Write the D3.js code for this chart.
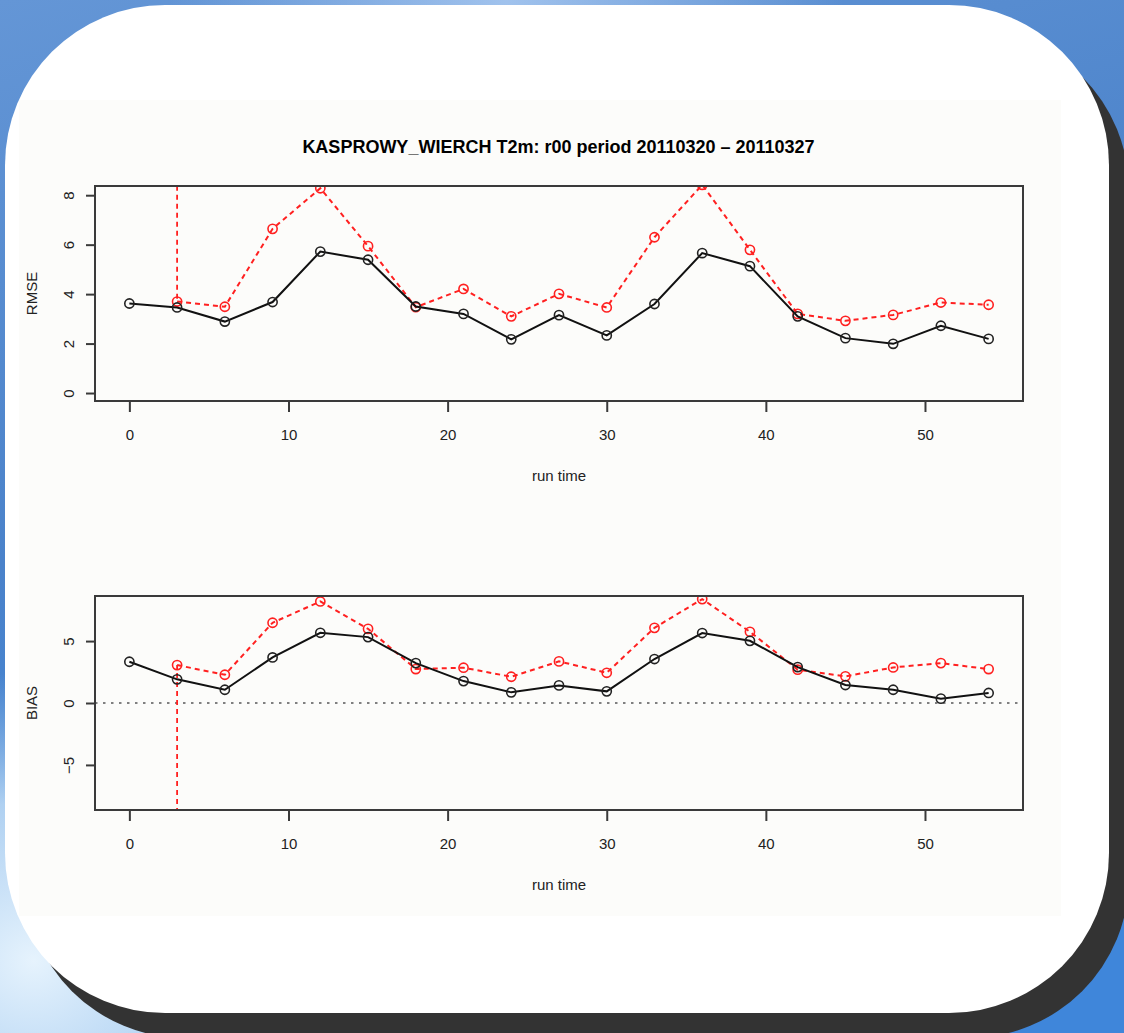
<!DOCTYPE html>
<html><head><meta charset="utf-8">
<script src="https://cdn.jsdelivr.net/npm/d3@7"></script>
<style>html,body{margin:0;padding:0;overflow:hidden;background:#4f86cc}</style>
</head><body>
<script>
// ---- data ----
const title = "KASPROWY_WIERCH T2m: r00 period 20110320 \u2013 20110327";
const xLabel = "run time";
const hours = [0,3,6,9,12,15,18,21,24,27,30,33,36,39,42,45,48,51,54];
const redHours = [3,6,9,12,15,18,21,24,27,30,33,36,39,42,45,48,51,54];
const rmseBlack = [3.62,3.46,2.89,3.68,5.72,5.39,3.50,3.20,2.17,3.15,2.33,3.60,5.66,5.13,3.10,2.22,1.99,2.72,2.19];
const rmseRed   = [3.70,3.49,6.64,8.28,5.94,3.47,4.21,3.10,4.01,3.46,6.30,8.42,5.79,3.20,2.92,3.16,3.66,3.57];
const biasBlack = [3.33,1.91,1.07,3.68,5.67,5.32,3.22,1.77,0.86,1.42,0.94,3.55,5.65,5.02,2.90,1.45,1.07,0.35,0.81];
const biasRed   = [3.06,2.28,6.48,8.20,5.99,2.74,2.85,2.12,3.36,2.44,6.07,8.39,5.75,2.69,2.15,2.87,3.22,2.74];
// off-scale spike of the red series at hour 3 (runs out of the plot region)
const redSpikeHour = 3;
const rmseRedSpike = 99;
const biasRedSpike = -99;
const xTicks = [0,10,20,30,40,50];
const rmseTicks = [0,2,4,6,8];
const biasTicks = [-5,0,5];
const biasTickLabels = ["\u22125","0","5"];

// ---- layout ----
const W = 1124, H = 1033;
const svg = d3.select("body").append("svg").attr("width", W).attr("height", H)
  .style("display","block");
const defs = svg.append("defs");

const bg = defs.append("linearGradient").attr("id","bg").attr("x1",0).attr("y1",0).attr("x2",0.3).attr("y2",1);
bg.append("stop").attr("offset","0").attr("stop-color","#6496d6");
bg.append("stop").attr("offset","0.5").attr("stop-color","#4a82ca");
bg.append("stop").attr("offset","1").attr("stop-color","#3f86da");
const bl = defs.append("radialGradient").attr("id","bl").attr("cx",0.03).attr("cy",0.93).attr("r",0.28);
bl.append("stop").attr("offset","0").attr("stop-color","#e6f3fd").attr("stop-opacity",1);
bl.append("stop").attr("offset","0.55").attr("stop-color","#c2def7").attr("stop-opacity",0.85);
bl.append("stop").attr("offset","1").attr("stop-color","#9cc6ef").attr("stop-opacity",0);
const tp = defs.append("radialGradient").attr("id","tp").attr("cx",0.45).attr("cy",0).attr("r",0.3);
tp.append("stop").attr("offset","0").attr("stop-color","#a8c8f0").attr("stop-opacity",0.9);
tp.append("stop").attr("offset","1").attr("stop-color","#a8c8f0").attr("stop-opacity",0);

svg.append("rect").attr("width",W).attr("height",H).attr("fill","url(#bg)");
svg.append("rect").attr("width",W).attr("height",H).attr("fill","url(#bl)");
svg.append("rect").attr("width",W).attr("height",H).attr("fill","url(#tp)");

// shadow + white card
svg.append("rect").attr("x",25).attr("y",30).attr("width",1104).attr("height",1008)
  .attr("rx",160).attr("ry",160).attr("fill","#333333");
svg.append("rect").attr("x",5).attr("y",5).attr("width",1104).attr("height",1008)
  .attr("rx",160).attr("ry",160).attr("fill","#ffffff");
// chart image area
svg.append("rect").attr("x",19).attr("y",100).attr("width",1042).attr("height",816).attr("fill","#fcfcfa");

const FONT = "'Liberation Sans', Arial, Helvetica, sans-serif";

svg.append("text").attr("x",558.5).attr("y",152.5).attr("text-anchor","middle")
  .attr("font-family",FONT).attr("font-size",18).attr("font-weight","bold").attr("fill","#000")
  .text(title);

const x = d3.scaleLinear().domain([-2.16, 56.16]).range([95, 1023]);

function panel(cfg){
  const y = d3.scaleLinear().domain(cfg.domain).range([cfg.bottom, cfg.top]);
  const g = svg.append("g");
  const cid = "clip" + cfg.id;
  defs.append("clipPath").attr("id",cid).append("rect")
    .attr("x",95).attr("y",cfg.top).attr("width",1023-95).attr("height",cfg.bottom-cfg.top);
  const plot = g.append("g").attr("clip-path",`url(#${cid})`);

  if (cfg.zero) {
    plot.append("line").attr("x1",95).attr("x2",1023).attr("y1",y(0)).attr("y2",y(0))
      .attr("stroke","#808080").attr("stroke-width",2.2).attr("stroke-dasharray","2.5,5.5");
  }
  const line = d3.line().x(d=>x(d[0])).y(d=>y(d[1]));
  // red spike
  plot.append("path").attr("d", line([[redSpikeHour, cfg.spike],[cfg.redHours[0], cfg.red[0]]]))
    .attr("fill","none").attr("stroke","#ff2020").attr("stroke-width",1.8).attr("stroke-dasharray","5,4");
  const redPts = cfg.redHours.map((h,i)=>[h, cfg.red[i]]);
  const blkPts = cfg.hours.map((h,i)=>[h, cfg.black[i]]);
  plot.append("path").attr("d", line(redPts)).attr("fill","none").attr("stroke","#ff2020")
    .attr("stroke-width",2).attr("stroke-dasharray","5,4");
  plot.selectAll("circle.r").data(redPts).join("circle").attr("class","r")
    .attr("cx",d=>x(d[0])).attr("cy",d=>y(d[1])).attr("r",4.6)
    .attr("fill","none").attr("stroke","#ff2020").attr("stroke-width",1.6);
  plot.append("path").attr("d", line(blkPts)).attr("fill","none").attr("stroke","#111")
    .attr("stroke-width",2);
  plot.selectAll("circle.b").data(blkPts).join("circle").attr("class","b")
    .attr("cx",d=>x(d[0])).attr("cy",d=>y(d[1])).attr("r",4.6)
    .attr("fill","none").attr("stroke","#222").attr("stroke-width",1.6);

  // box
  g.append("rect").attr("x",95).attr("y",cfg.top).attr("width",1023-95).attr("height",cfg.bottom-cfg.top)
    .attr("fill","none").attr("stroke","#3a3a3a").attr("stroke-width",2);

  // x axis
  const xa = g.append("g").attr("transform",`translate(0,${cfg.bottom})`)
    .call(d3.axisBottom(x).tickValues(xTicks).tickSize(11).tickPadding(17).tickFormat(d3.format("d")));
  xa.select(".domain").remove();
  xa.selectAll("line").attr("stroke","#3a3a3a").attr("stroke-width",2);
  xa.selectAll("text").attr("font-family",FONT).attr("font-size",15).attr("fill","#222");

  // y axis
  const ya = g.append("g").attr("transform","translate(95,0)")
    .call(d3.axisLeft(y).tickValues(cfg.ticks).tickSize(9).tickFormat((d,i)=>cfg.tickLabels[i]));
  ya.select(".domain").remove();
  ya.selectAll("line").attr("stroke","#3a3a3a").attr("stroke-width",2);
  ya.selectAll("text").attr("x",null).attr("dy",null).attr("text-anchor","middle")
    .attr("transform","translate(-21,0) rotate(-90)")
    .attr("font-family",FONT).attr("font-size",15).attr("fill","#222");

  // labels
  g.append("text").attr("transform",`translate(36.5,${(cfg.top+cfg.bottom)/2}) rotate(-90)`)
    .attr("text-anchor","middle").attr("font-family",FONT).attr("font-size",15).attr("fill","#222")
    .text(cfg.label);
  g.append("text").attr("x",559).attr("y",cfg.bottom+80).attr("text-anchor","middle")
    .attr("font-family",FONT).attr("font-size",15).attr("fill","#222").text(xLabel);
}

panel({id:"rmse", top:186, bottom:401, domain:[-0.322, 8.372], ticks:rmseTicks,
  tickLabels:rmseTicks.map(String), label:"RMSE", hours:hours, black:rmseBlack,
  redHours:redHours, red:rmseRed, spike:rmseRedSpike, zero:false});
panel({id:"bias", top:596, bottom:810, domain:[-8.64, 8.64], ticks:biasTicks,
  tickLabels:biasTickLabels, label:"BIAS", hours:hours, black:biasBlack,
  redHours:redHours, red:biasRed, spike:biasRedSpike, zero:true});
</script>
</body></html>
